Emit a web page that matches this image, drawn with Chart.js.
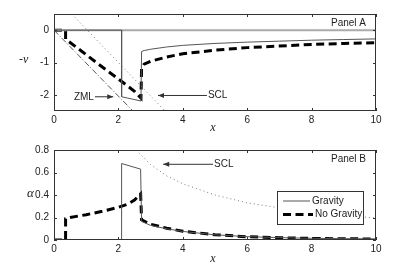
<!DOCTYPE html>
<html><head><meta charset="utf-8">
<script src="https://cdn.jsdelivr.net/npm/chart.js@4.4.0/dist/chart.umd.min.js"></script>
<style>
html,body{margin:0;padding:0;background:#fff;width:415px;height:270px;overflow:hidden}
.p{position:absolute;left:0;width:415px;height:135px}
</style></head><body>
<div class="p" style="top:0"><canvas id="a" width="415" height="135"></canvas></div>
<div class="p" style="top:135px"><canvas id="b" width="415" height="135"></canvas></div>
<script>
// ---------- data ----------
const xTicks = [0, 2, 4, 6, 8, 10];
const xTickLabels = ['0', '2', '4', '6', '8', '10'];
const yTicksA = [-2, -1, 0];
const yTickLabelsA = ['-2', '-1', '0'];
const yTicksB = [0, 0.2, 0.4, 0.6, 0.8];
const yTickLabelsB = ['0', '0.2', '0.4', '0.6', '0.8'];

// Panel A (-v)
const xZeroA = [0, 10];
const vZeroA = [0, 0];
const xGravA = [0, 2.1, 2.1, 2.7, 2.72, 2.8, 3, 3.5, 4, 5, 6, 7, 8, 9, 10];
const vGravA = [0, 0, -2.06, -2.19, -0.66, -0.63, -0.59, -0.52, -0.47, -0.41, -0.37, -0.34, -0.31, -0.29, -0.27];
const xNoGravA = [0, 0.36, 0.36, 0.5, 1, 1.5, 2, 2.5, 2.7, 2.72, 2.8, 3, 3.5, 4, 5, 6, 7, 8, 9, 10];
const vNoGravA = [0, 0, -0.28, -0.38, -0.76, -1.14, -1.51, -1.89, -2.1, -1.17, -1.05, -0.96, -0.83, -0.73, -0.62, -0.54, -0.49, -0.44, -0.41, -0.39];
const xSclA = [0.55, 3.45];
const vSclA = [0.5, -2.5];
const xZmlA = [0, 2.45];
const vZmlA = [0, -2.5];

// Panel B (alpha)
const xGravB = [0, 2.1, 2.1, 2.69, 2.72, 3, 3.5, 4, 5, 6, 7, 8, 9, 10];
const aGravB = [0, 0, 0.68, 0.63, 0.165, 0.13, 0.1, 0.076, 0.046, 0.03, 0.021, 0.015, 0.012, 0.01];
const xNoGravB = [0, 0.36, 0.36, 0.5, 1, 1.5, 2, 2.3, 2.5, 2.69, 2.72, 3, 3.5, 4, 5, 6, 7, 8, 9, 10];
const aNoGravB = [0, 0, 0.19, 0.2, 0.225, 0.255, 0.29, 0.32, 0.355, 0.41, 0.18, 0.14, 0.105, 0.078, 0.047, 0.029, 0.02, 0.014, 0.011, 0.009];
const xSclB = [2.55, 3, 3.5, 4, 5, 6, 7, 8, 9, 10];
const aSclB = [0.8, 0.67, 0.57, 0.5, 0.4, 0.33, 0.286, 0.25, 0.22, 0.195];

// ---------- helpers ----------
const pts = (xs, ys) => xs.map((x, i) => ({x: x, y: ys[i]}));
const TICKFONT = {family: "'Liberation Sans', Arial, sans-serif", size: 10};
const TXT = '#222';

function ds(data, color, width, dash, label) {
  return {label: label || '', data: data, borderColor: color, borderWidth: width,
    borderDash: dash || [], pointRadius: 0, tension: 0, fill: false,
    borderCapStyle: 'butt', borderJoinStyle: 'miter', clip: 0};
}

function arrow(ctx, x1, y1, x2, y2) {
  ctx.save();
  ctx.strokeStyle = '#333'; ctx.fillStyle = '#333'; ctx.lineWidth = 1; ctx.setLineDash([]);
  ctx.beginPath(); ctx.moveTo(x1, y1); ctx.lineTo(x2, y2); ctx.stroke();
  const ang = Math.atan2(y2 - y1, x2 - x1), L = 6, W = 2.5;
  ctx.beginPath();
  ctx.moveTo(x2, y2);
  ctx.lineTo(x2 - L * Math.cos(ang) + W * Math.sin(ang), y2 - L * Math.sin(ang) - W * Math.cos(ang));
  ctx.lineTo(x2 - L * Math.cos(ang) - W * Math.sin(ang), y2 - L * Math.sin(ang) + W * Math.cos(ang));
  ctx.closePath(); ctx.fill();
  ctx.restore();
}

function makePlugin(cfg) {
  return {
    id: 'deco',
    afterDraw(chart) {
      const ctx = chart.ctx, ca = chart.chartArea, sx = chart.scales.x, sy = chart.scales.y;
      ctx.save();
      // box + inward ticks
      ctx.strokeStyle = '#333'; ctx.lineWidth = 1; ctx.setLineDash([]);
      ctx.strokeRect(Math.round(ca.left) + 0.5, Math.round(ca.top) + 0.5,
        Math.round(ca.right - ca.left) - 1, Math.round(ca.bottom - ca.top) - 1);
      ctx.beginPath();
      cfg.xt.forEach(v => {
        const px = Math.round(sx.getPixelForValue(v)) + 0.5;
        ctx.moveTo(px, ca.bottom); ctx.lineTo(px, ca.bottom - 3);
        ctx.moveTo(px, ca.top); ctx.lineTo(px, ca.top + 3);
      });
      cfg.yt.forEach(v => {
        const py = Math.round(sy.getPixelForValue(v)) + 0.5;
        ctx.moveTo(ca.left, py); ctx.lineTo(ca.left + 3, py);
        ctx.moveTo(ca.right, py); ctx.lineTo(ca.right - 3, py);
      });
      ctx.stroke();
      // axis labels
      ctx.fillStyle = TXT;
      ctx.textBaseline = 'middle';
      ctx.textAlign = 'center';
      ctx.font = "italic 12px 'Liberation Serif', serif";
      ctx.fillText('x', (ca.left + ca.right) / 2 - 2, ca.bottom + cfg.xLabelDy);
      ctx.font = cfg.yLabelFont;
      ctx.textAlign = 'left';
      ctx.fillText(cfg.yLabel, cfg.yLabelX, sy.getPixelForValue(cfg.yLabelV));
      // panel label
      ctx.font = "10px 'Liberation Sans', Arial, sans-serif";
      ctx.textAlign = 'right';
      ctx.fillText(cfg.panel, ca.right - 10, ca.top + 9);
      // annotations
      cfg.notes.forEach(n => {
        const tx = sx.getPixelForValue(n.tip[0]), ty = sy.getPixelForValue(n.tip[1]);
        const bx = sx.getPixelForValue(n.tail);
        arrow(ctx, bx, ty, tx, ty);
        ctx.fillStyle = TXT;
        ctx.font = "10px 'Liberation Sans', Arial, sans-serif";
        ctx.textAlign = n.side === 'left' ? 'right' : 'left';
        ctx.fillText(n.text, n.side === 'left' ? bx - 1 : bx + 1, ty);
      });
      // legend
      if (cfg.legend) {
        const lx = ca.right - 99, ly = ca.top + 41, lw = 86, lh = 33;
        ctx.fillStyle = '#fff';
        ctx.fillRect(lx, ly, lw, lh);
        ctx.strokeStyle = '#333'; ctx.lineWidth = 1;
        ctx.strokeRect(lx + 0.5, ly + 0.5, lw, lh);
        const items = chart.data.datasets.filter(d => d.label);
        items.forEach((d, i) => {
          const yy = ly + 10 + i * 13.5;
          const x2 = i === 0 ? lx + 33 : lx + 36;
          ctx.strokeStyle = d.borderColor; ctx.lineWidth = d.borderWidth;
          ctx.setLineDash(d.borderDash);
          ctx.beginPath(); ctx.moveTo(lx + 6, yy); ctx.lineTo(x2, yy); ctx.stroke();
          ctx.setLineDash([]);
          ctx.fillStyle = TXT; ctx.textAlign = 'left';
          ctx.font = "10px 'Liberation Sans', Arial, sans-serif";
          ctx.fillText(d.label, x2 + 2, yy);
        });
      }
      ctx.restore();
    }
  };
}

function scales(ymin, ymax, yt, ytl, xAxisH) {
  return {
    x: {type: 'linear', min: 0, max: 10,
      afterBuildTicks: s => { s.ticks = xTicks.map(v => ({value: v})); },
      afterFit: s => { s.height = xAxisH; },
      ticks: {font: TICKFONT, color: TXT, padding: 3, maxRotation: 0, autoSkip: false,
        callback: (v) => xTickLabels[xTicks.indexOf(v)]},
      grid: {display: false, drawTicks: false}, border: {display: false}},
    y: {type: 'linear', min: ymin, max: ymax,
      afterBuildTicks: s => { s.ticks = yt.map(v => ({value: v})); },
      afterFit: s => { s.width = 54; },
      ticks: {font: TICKFONT, color: TXT, padding: 5, autoSkip: false,
        callback: (v) => ytl[yt.indexOf(v)]},
      grid: {display: false, drawTicks: false}, border: {display: false}}
  };
}

const common = {responsive: false, animation: false, devicePixelRatio: 1,
  plugins: {legend: {display: false}, tooltip: {enabled: false}}};

new Chart(document.getElementById('a'), {
  type: 'line',
  data: {datasets: [
    ds(pts(xSclA, vSclA), '#777777', 1, [1, 3]),
    ds(pts(xZmlA, vZmlA), '#555555', 1, [6, 2, 1, 2]),
    ds(pts(xGravA, vGravA), '#555555', 1),
    ds(pts(xZeroA, vZeroA), '#aaaaaa', 2),
    ds(pts(xNoGravA, vNoGravA), '#000000', 3, [8, 4.5])
  ]},
  options: Object.assign({}, common, {
    layout: {padding: {top: 14, right: 39, left: 0, bottom: 0}},
    scales: scales(-2.5, 0.5, yTicksA, yTickLabelsA, 24)
  }),
  plugins: [makePlugin({xt: xTicks, yt: yTicksA, xLabelDy: 17, yLabel: '-v', yLabelX: 19, yLabelV: -0.92,
    yLabelFont: "italic 12px 'Liberation Serif', serif", panel: 'Panel A',
    notes: [{text: 'ZML', tip: [1.84, -2.06], tail: 1.27, side: 'left'},
            {text: 'SCL', tip: [3.23, -2.02], tail: 4.75, side: 'right'}]})]
});

new Chart(document.getElementById('b'), {
  type: 'line',
  data: {datasets: [
    ds(pts(xSclB, aSclB), '#777777', 1, [1, 3]),
    ds(pts(xGravB, aGravB), '#555555', 1, [], 'Gravity'),
    ds(pts(xNoGravB, aNoGravB), '#000000', 3, [8, 4.5], 'No Gravity')
  ]},
  options: Object.assign({}, common, {
    layout: {padding: {top: 15, right: 39, left: 0, bottom: 0}},
    scales: scales(0, 0.8, yTicksB, yTickLabelsB, 30)
  }),
  plugins: [makePlugin({xt: xTicks, yt: yTicksB, xLabelDy: 19, yLabel: 'α', yLabelX: 27, yLabelV: 0.41,
    yLabelFont: "italic 13px 'Liberation Serif', serif", panel: 'Panel B', legend: true,
    notes: [{text: 'SCL', tip: [3.39, 0.673], tail: 4.94, side: 'right'}]})]
});
</script>
</body></html>
